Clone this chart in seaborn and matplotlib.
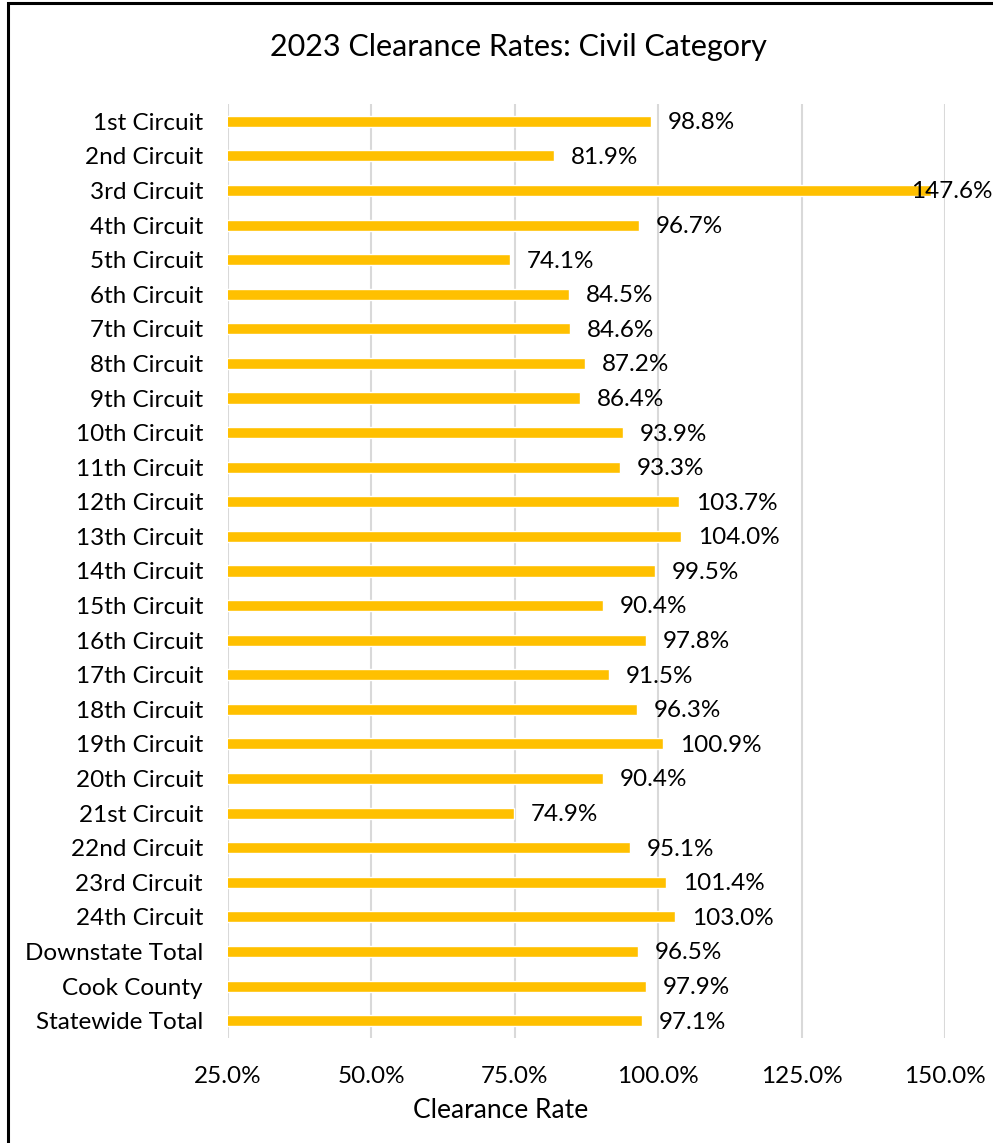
import numpy as np
import pandas as pd
import matplotlib
matplotlib.use("Agg")
import matplotlib.pyplot as plt
from matplotlib.ticker import FuncFormatter
from matplotlib.patches import Rectangle
import seaborn as sns

circuits = ["1st Circuit", "2nd Circuit", "3rd Circuit", "4th Circuit", "5th Circuit",
            "6th Circuit", "7th Circuit", "8th Circuit", "9th Circuit", "10th Circuit",
            "11th Circuit", "12th Circuit", "13th Circuit", "14th Circuit", "15th Circuit",
            "16th Circuit", "17th Circuit", "18th Circuit", "19th Circuit", "20th Circuit",
            "21st Circuit", "22nd Circuit", "23rd Circuit", "24th Circuit",
            "Downstate Total", "Cook County", "Statewide Total"]
rates = [98.8, 81.9, 147.6, 96.7, 74.1, 84.5, 84.6, 87.2, 86.4, 93.9,
         93.3, 103.7, 104.0, 99.5, 90.4, 97.8, 91.5, 96.3, 100.9, 90.4,
         74.9, 95.1, 101.4, 103.0, 96.5, 97.9, 97.1]
x_ticks = [25, 50, 75, 100, 125, 150]

GOLD = "#FFC000"
FS = 17.5

sns.set_theme(style="white")
plt.rcParams["font.family"] = ["Lato", "DejaVu Sans"]
plt.rcParams["text.color"] = "black"

df = pd.DataFrame({"circuit": circuits, "rate": rates})

fig = plt.figure(figsize=(9.93, 11.43), dpi=100)
ax = fig.add_axes([0.2296, 0.0919, 0.7221, 0.8171])
sns.barplot(data=df, x="rate", y="circuit", orient="h", color=GOLD,
            width=0.32, ax=ax, saturation=1)

ax.set_xlim(x_ticks[0], x_ticks[-1])
ax.set_ylim(len(circuits) - 0.5, -0.5)
ax.set_xticks(x_ticks)
ax.xaxis.set_major_formatter(FuncFormatter(lambda v, _: f"{v:.1f}%"))
ax.grid(axis="x", color="#D9D9D9", lw=1.5)
ax.set_axisbelow(True)
for s in ax.spines.values():
    s.set_visible(False)
ax.tick_params(axis="both", length=0, labelsize=FS, colors="black")
ax.tick_params(axis="y", pad=18)
ax.tick_params(axis="x", pad=20)
ax.set_ylabel("")
ax.set_xlabel("")

fig.canvas.draw()
renderer = fig.canvas.get_renderer()
fig_w = fig.bbox.width
for i, v in enumerate(rates):
    t = ax.annotate(f"{v:.1f}%", (v, i), xytext=(12, -1), textcoords="offset points",
                    ha="left", va="center", fontsize=FS, annotation_clip=False)
    bb = t.get_window_extent(renderer)
    if bb.x1 > fig_w:
        t.remove()
        ax.annotate(f"{v:.1f}%", xy=(1.0, i), xycoords=("figure fraction", "data"),
                    xytext=(0, -1), textcoords="offset points",
                    ha="right", va="center", fontsize=FS, annotation_clip=False)

fig.text(0.522, 1 - 47 / 1143, "2023 Clearance Rates: Civil Category", ha="center",
         va="center", fontsize=22)
fig.text(501 / 993, 1 - 1111 / 1143, "Clearance Rate", ha="center", va="center",
         fontsize=19)

fig.patches.append(Rectangle((8 / 993, -0.05), 1.2, 1 - 3 / 1143 + 0.05,
                             transform=fig.transFigure, fill=False,
                             edgecolor="black", lw=2.2))

fig.savefig("out.png", dpi=100)
